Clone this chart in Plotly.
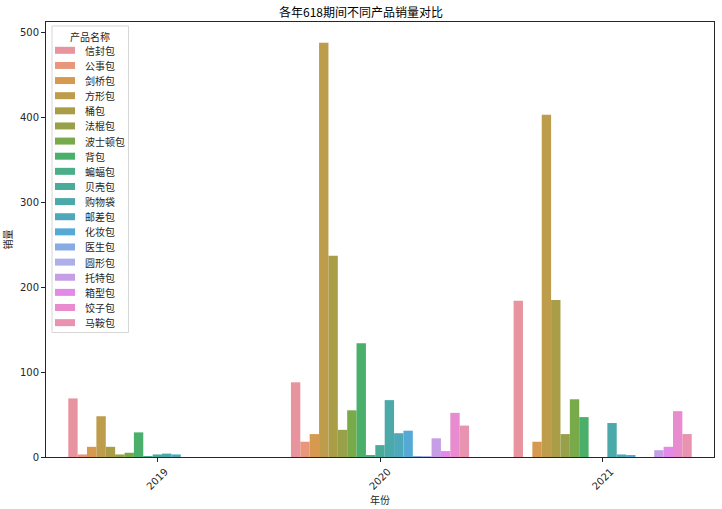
import plotly.graph_objects as go

# ---------------- data ----------------
years = ["2019", "2020", "2021"]
products = ["信封包", "公事包", "剑桥包", "方形包", "桶包", "法棍包", "波士顿包", "背包",
            "蝙蝠包", "贝壳包", "购物袋", "邮差包", "化妆包", "医生包", "圆形包", "托特包",
            "箱型包", "饺子包", "马鞍包"]
sales_2019 = [69, 3, 12, 48, 12, 3, 5, 29, 1, 3, 4, 3, 0, 0, 0, 0, 0, 0, 0]
sales_2020 = [88, 18, 27, 488, 237, 32, 55, 134, 2, 14, 67, 28, 31, 1, 1, 22, 7, 52, 37]
sales_2021 = [184, 0, 18, 403, 185, 27, 68, 47, 0, 0, 40, 3, 2, 0, 0, 8, 12, 54, 27]

# ---------------- style ----------------
colors = ["#e8949f", "#e8967c", "#d5994f", "#bd9c4c", "#a99d48", "#98a14a", "#78aa49",
          "#4aaf6a", "#4aae88", "#4aab99", "#4baaa9", "#4da9b9", "#55a9d5", "#86abe5",
          "#aeaeea", "#c59ee6", "#e38ae8", "#e88ccf", "#e893b0"]

W, H = 722, 509
ML, MR, MT, MB = 46, 8, 22, 52
PW, PH = W - ML - MR, H - MT - MB


def px(x):
    return (x - ML) / PW


def py(y):
    return (H - MB - y) / PH


fig = go.Figure()
for i, name in enumerate(products):
    fig.add_trace(go.Bar(
        x=years,
        y=[sales_2019[i], sales_2020[i], sales_2021[i]],
        name=name,
        marker=dict(color=colors[i], line=dict(width=0)),
        showlegend=False,
    ))

font_family = "Noto Sans CJK SC, DejaVu Sans, sans-serif"
axis_color = "#262626"

# ------------- legend (drawn like matplotlib's) -------------
shapes = [dict(type="rect", xref="paper", yref="paper",
               x0=px(52), x1=px(128.5), y0=py(332.5), y1=py(26),
               fillcolor="rgba(255,255,255,0.8)", line=dict(color="#d6d6d6", width=1),
               layer="above")]
annotations = [dict(text="产品名称", xref="paper", yref="paper", x=px(90), y=py(37),
                    xanchor="center", yanchor="middle", showarrow=False,
                    font=dict(size=10, color="#262626", family=font_family))]
for i, name in enumerate(products):
    yc = 50.3 + 15.13 * i
    shapes.append(dict(type="rect", xref="paper", yref="paper",
                       x0=px(55), x1=px(75), y0=py(yc + 3.5), y1=py(yc - 3.5),
                       fillcolor=colors[i], line=dict(width=0), layer="above"))
    annotations.append(dict(text=name, xref="paper", yref="paper", x=px(83), y=py(yc),
                            xanchor="left", yanchor="middle", showarrow=False,
                            font=dict(size=10, color="#262626", family=font_family)))

fig.update_layout(
    width=W, height=H,
    margin=dict(l=ML, r=MR, t=MT, b=MB),
    paper_bgcolor="white", plot_bgcolor="white",
    barmode="group", bargap=0.2, bargroupgap=0,
    font=dict(family=font_family, size=10, color="#262626"),
    title=dict(text="各年618期间不同产品销量对比", x=0.5, xanchor="center",
               y=1 - 13 / H, yanchor="middle", font=dict(size=12, color="black")),
    showlegend=False,
    shapes=shapes,
    annotations=annotations,
)
fig.update_xaxes(
    type="category", range=[-0.5, 2.5], tickangle=-45, automargin=False,
    ticklabelshift=8,
    showline=True, linecolor=axis_color, linewidth=1, mirror=True,
    ticks="outside", ticklen=4, tickcolor=axis_color,
    title=dict(text="年份", standoff=4, font=dict(size=10)),
    tickfont=dict(size=10, family="DejaVu Sans"),
    showgrid=False, zeroline=False,
)
fig.update_yaxes(
    range=[0, 512.4], tickvals=[0, 100, 200, 300, 400, 500], automargin=False,
    showline=True, linecolor=axis_color, linewidth=1, mirror=True,
    ticks="outside", ticklen=4, tickcolor=axis_color,
    title=dict(text="销量", standoff=6, font=dict(size=10)),
    tickfont=dict(size=10, family="DejaVu Sans"),
    showgrid=False, zeroline=False,
)

fig.write_html("out.html", config={"displayModeBar": False},
               post_script="document.body.style.margin='0px';")
